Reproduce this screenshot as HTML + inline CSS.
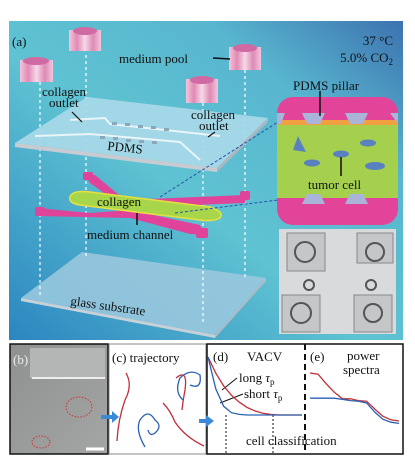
<!DOCTYPE html>
<html><head><meta charset="utf-8"><style>
html,body{margin:0;padding:0;background:#fff;width:415px;height:459px;overflow:hidden}
svg{display:block}
text{font-family:"Liberation Serif",serif;fill:#111}
</style></head><body>
<svg width="415" height="459" viewBox="0 0 415 459">
<defs>
<linearGradient id="bg" x1="0" y1="1" x2="1" y2="0">
<stop offset="0" stop-color="#2b86c0"/><stop offset="0.45" stop-color="#5fc3d2"/><stop offset="0.75" stop-color="#58b6cf"/><stop offset="1" stop-color="#3d72b0"/>
</linearGradient>
<linearGradient id="pool" x1="0" x2="1"><stop offset="0" stop-color="#f4c6dc"/><stop offset="0.25" stop-color="#e08ab4"/><stop offset="0.5" stop-color="#f7d8e8"/><stop offset="0.75" stop-color="#de8ab4"/><stop offset="1" stop-color="#f2c6dc"/></linearGradient>
<linearGradient id="photo" x1="0" y1="0" x2="1" y2="1"><stop offset="0" stop-color="#8f9090"/><stop offset="1" stop-color="#a4a6a6"/></linearGradient>
</defs>
<g>
<rect x="9" y="21" width="394" height="319" fill="url(#bg)"/>
<text x="12" y="46" font-size="13">(a)</text>
<text x="393" y="45" font-size="13" text-anchor="end">37 °C</text>
<text x="393" y="62" font-size="13" text-anchor="end">5.0% CO<tspan font-size="9" dy="3">2</tspan></text>
<polygon points="21,298 82,252 266,278 215,335" fill="#98c8de" opacity="0.9"/>
<polygon points="21,298 215,335 215,338 21,301" fill="#c8d0d8"/>
<polygon points="215,335 266,278 266,281 215,338" fill="#b0bac4"/>
<text x="70" y="305" font-size="13" transform="rotate(8 70 305)">glass substrate</text>
<g stroke="#fff" stroke-width="1.2" stroke-dasharray="3,3">
<line x1="40" y1="82" x2="40" y2="298"/><line x1="86" y1="55" x2="86" y2="258"/>
<line x1="203" y1="103" x2="203" y2="322"/><line x1="245" y1="70" x2="245" y2="280"/>
</g>
<g fill="#e0449a">
<polygon points="85,175 95,175 125,200 245,195 245,203 125,208 90,183"/>
<polygon points="37,208 90,213 130,210 200,225 205,235 190,234 130,218 37,216"/>
<rect x="83" y="172" width="10" height="8" rx="2"/><rect x="240" y="191" width="10" height="9" rx="2"/>
<rect x="35" y="207" width="10" height="9" rx="2"/><rect x="196" y="228" width="12" height="10" rx="2"/>
</g>
<path d="M70,197 Q72,190 90,192 L210,207 Q225,212 220,218 Q212,222 200,220 L80,205 Q68,203 70,197Z" fill="#a8d64a" stroke="#e8e040" stroke-width="1.5"/>
<text x="97" y="206" font-size="13">collagen</text>
<line x1="137" y1="213" x2="137" y2="225" stroke="#111" stroke-width="1.5"/>
<text x="87" y="239" font-size="13">medium channel</text>
<polygon points="15,143 87,97 268,118 217,168" fill="#a8d9e8" opacity="0.92"/>
<polygon points="15,143 217,168 217,172 15,147" fill="#c8ccd2"/>
<polygon points="217,168 268,118 268,122 217,172" fill="#aeb6c0"/>
<path d="M70,120 L105,118 L110,124 L220,136 M35,136 L90,134 L180,142 L200,160" stroke="#e8f4f8" stroke-width="2" fill="none"/>
<g fill="#8aa8b8"><rect x="112" y="122" width="5" height="3"/><rect x="125" y="123" width="5" height="3"/><rect x="138" y="125" width="5" height="3"/><rect x="151" y="126" width="5" height="3"/><rect x="164" y="128" width="5" height="3"/><rect x="100" y="136" width="5" height="3"/><rect x="113" y="137" width="5" height="3"/><rect x="126" y="139" width="5" height="3"/><rect x="139" y="140" width="5" height="3"/><rect x="152" y="141" width="5" height="3"/></g>
<text x="107" y="150" font-size="13" transform="rotate(6 107 150)">PDMS</text>
<text x="42" y="96" font-size="13">collagen</text>
<text x="49" y="107" font-size="13">outlet</text>
<line x1="72" y1="112" x2="82" y2="122" stroke="#111" stroke-width="1.2"/>
<text x="191" y="119" font-size="13">collagen</text>
<text x="199" y="130" font-size="13">outlet</text>
<line x1="215" y1="132" x2="208" y2="137" stroke="#111" stroke-width="1.2"/>
<g>
<rect x="20" y="60" width="33" height="22" fill="url(#pool)"/><ellipse cx="36" cy="61" rx="13" ry="4" fill="#d06aa4"/>
<rect x="69" y="30" width="32" height="21" fill="url(#pool)"/><ellipse cx="85" cy="31" rx="12" ry="4" fill="#d06aa4"/>
<rect x="229" y="47" width="32" height="23" fill="url(#pool)"/><ellipse cx="245" cy="48" rx="12" ry="4" fill="#d06aa4"/>
<rect x="186" y="79" width="32" height="24" fill="url(#pool)"/><ellipse cx="202" cy="80" rx="12" ry="4" fill="#d06aa4"/>
</g>
<text x="119" y="63" font-size="13">medium pool</text>
<line x1="213" y1="58" x2="230" y2="59" stroke="#111" stroke-width="1.5"/>
<g>
<line x1="160" y1="197" x2="278" y2="122" stroke="#2a50a8" stroke-dasharray="3,2"/>
<line x1="175" y1="213" x2="278" y2="200" stroke="#2a50a8" stroke-dasharray="3,2"/>
<rect x="277" y="97" width="121" height="128" rx="16" fill="#e2449a"/>
<rect x="277" y="120" width="121" height="78" fill="#a4d04e"/>
<rect x="277" y="120" width="121" height="5" fill="#f0a040"/>
<g fill="#a9b4d8"><polygon points="302,113 325,113 320,124 307,124"/><polygon points="345,113 368,113 363,124 350,124"/><polygon points="277,113 285,113 281,124 277,124"/><polygon points="390,113 398,113 398,124"/>
<polygon points="307,194 320,194 325,204 302,204"/><polygon points="350,194 363,194 368,204 345,204"/></g>
<g fill="#5a80c0"><path d="M298,136 L306,152 L293,150Z"/><ellipse cx="368" cy="143" rx="8" ry="3.5"/><ellipse cx="341" cy="154" rx="8" ry="3.5"/><ellipse cx="312" cy="163" rx="8" ry="3.5"/><ellipse cx="375" cy="166" rx="10" ry="4"/></g>
<line x1="320" y1="91" x2="320" y2="116" stroke="#111" stroke-width="1.5"/>
<line x1="341" y1="157" x2="341" y2="176" stroke="#111" stroke-width="1.5"/>
<text x="293" y="90" font-size="13">PDMS pillar</text>
<text x="308" y="189" font-size="13">tumor cell</text>
</g>
<g>
<rect x="279" y="229" width="117" height="105" fill="#d8dadb"/>
<rect x="287" y="233" width="38" height="38" fill="#c4c6c8" stroke="#888"/><rect x="357" y="233" width="36" height="30" fill="#c4c6c8" stroke="#888"/>
<rect x="282" y="295" width="38" height="37" fill="#c4c6c8" stroke="#888"/><rect x="354" y="295" width="38" height="37" fill="#c4c6c8" stroke="#888"/>
<g fill="none" stroke="#555" stroke-width="2"><circle cx="305" cy="252" r="10"/><circle cx="375" cy="252" r="9"/><circle cx="301" cy="313" r="10"/><circle cx="373" cy="313" r="9"/><circle cx="309" cy="285" r="5"/><circle cx="371" cy="285" r="5"/></g>
</g>
</g>
<g>
<rect x="10" y="344" width="98" height="110" fill="url(#photo)" stroke="#111" stroke-width="1.5"/>
<rect x="30" y="348" width="75" height="30" fill="#b4b6b6"/>
<line x1="32" y1="378" x2="105" y2="378" stroke="#eee" stroke-width="2"/>
<ellipse cx="79" cy="407" rx="13" ry="10" fill="none" stroke="#d03030" stroke-dasharray="1.5,1.5"/>
<ellipse cx="41" cy="442" rx="9" ry="6" fill="none" stroke="#d03030" stroke-dasharray="1.5,1.5"/>
<line x1="86" y1="449" x2="104" y2="449" stroke="#fff" stroke-width="3"/>
<text x="13" y="364" font-size="13" style="fill:#eee">(b)</text>
</g>
<g>
<rect x="109" y="344" width="97" height="110" fill="#fff" stroke="#888"/>
<text x="112" y="362" font-size="13">(c) trajectory</text>
<path d="M101,417 L114,417" stroke="#3a8ad8" stroke-width="4"/><polygon points="112,411 119,417 112,423" fill="#3a8ad8"/>
<g fill="none" stroke-width="1.3">
<path d="M126,373 Q133,385 125,400 Q118,420 117,441" stroke="#c0303a"/>
<path d="M163,403 Q170,410 175,422 Q185,437 204,446" stroke="#c0303a"/>
<path d="M176,378 Q188,368 185,390 Q183,400 182,410" stroke="#c0303a"/>
<path d="M145,447 Q135,430 140,420 Q148,408 155,420 Q163,426 155,433 Q150,437 148,430" stroke="#2a60b0"/>
<path d="M183,400 Q174,392 180,378 Q190,368 200,375 Q202,390 190,385" stroke="#2a60b0"/>
</g>
</g>
<g>
<rect x="207" y="344" width="196" height="110" fill="#fff" stroke="#111" stroke-width="1.5"/>
<path d="M199,421 L208,421" stroke="#3a8ad8" stroke-width="4"/><polygon points="206,415 214,421 206,427" fill="#3a8ad8"/>
<line x1="305" y1="344" x2="305" y2="454" stroke="#111" stroke-width="2" stroke-dasharray="6,4"/>
<line x1="226" y1="415" x2="226" y2="454" stroke="#111" stroke-dasharray="2,2"/>
<line x1="273" y1="415" x2="273" y2="454" stroke="#111" stroke-dasharray="2,2"/>
<text x="213" y="361" font-size="13">(d)</text>
<text x="247" y="361" font-size="13">VACV</text>
<text x="310" y="361" font-size="13">(e)</text>
<text x="347" y="360" font-size="13">power</text>
<text x="343" y="374" font-size="13">spectra</text>
<text x="239" y="382" font-size="13">long <tspan font-style="italic">τ</tspan><tspan font-size="9" dy="3">p</tspan></text>
<text x="244" y="398" font-size="13">short <tspan font-style="italic">τ</tspan><tspan font-size="9" dy="3">p</tspan></text>
<line x1="220" y1="403" x2="243" y2="394" stroke="#111"/>
<line x1="222" y1="390" x2="237" y2="378" stroke="#111"/>
<text x="246" y="445" font-size="13">cell classification</text>
<g id="curves"></g>
</g>
</svg>
<script>
const vacvLong = [1.0, 0.72, 0.5, 0.34, 0.22, 0.13, 0.07, 0.03, 0.01, 0, 0, 0, 0];
const vacvShort = [1.0, 0.45, 0.15, 0.04, 0.01, 0, 0, 0, 0, 0, 0, 0, 0];
const psRed = [0.9, 0.88, 0.72, 0.58, 0.47, 0.47, 0.44, 0.43, 0.3, 0.18, 0.12, 0.1];
const psBlue = [0.48, 0.48, 0.48, 0.48, 0.46, 0.44, 0.43, 0.4, 0.25, 0.13, 0.08, 0.06];
const NS='http://www.w3.org/2000/svg';
const g=document.getElementById('curves');
function draw(arr,x0,x1,y0,y1,color,name){
  const xs=i=>x0+(x1-x0)*i/(arr.length-1);
  const ys=v=>y0-(y0-y1)*v;
  let d=arr.map((v,i)=>(i?'L':'M')+xs(i).toFixed(1)+','+ys(v).toFixed(1)).join(' ');
  const p=document.createElementNS(NS,'path');
  p.setAttribute('d',d);p.setAttribute('fill','none');p.setAttribute('stroke',color);p.setAttribute('stroke-width','1.3');
  
  
  g.appendChild(p);
}
draw(vacvLong,208,302,415,357,'#c0303a','vacv-long-curve');
draw(vacvShort,208,302,415,357,'#2a60b0','vacv-short-curve');
draw(psRed,310,399,427,367,'#c0303a','power-spectrum-red');
draw(psBlue,310,399,427,367,'#2a60b0','power-spectrum-blue');
</script>
</body></html>
